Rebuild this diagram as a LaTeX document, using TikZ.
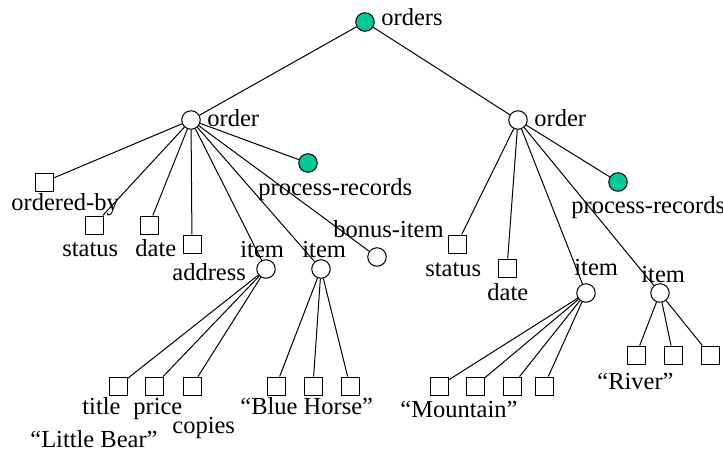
\documentclass[tikz,border=0pt]{standalone}
\usepackage{fontspec}
\setmainfont{Liberation Serif}
\newlength{\du}
\setlength{\du}{0.5pt}
\definecolor{recordgreen}{RGB}{0,200,150}
\tikzset{
  elem/.style={circle,draw=black,fill=white,line width=0.5pt,minimum size=18.5\du,inner sep=0pt},
  recnode/.style={elem,fill=recordgreen},
  leaf/.style={rectangle,draw=black,fill=white,line width=0.5pt,minimum size=18\du,inner sep=0pt},
  lbl/.style={anchor=base west,inner sep=0pt,font=\fontsize{12.25}{14}\selectfont},
  link/.style={draw=black,line width=0.5pt}
}

\begin{document}
\begin{tikzpicture}
\pgftransformxscale{1.000000}
\pgftransformyscale{-1.000000}
\useasboundingbox (0\du,0\du) rectangle (723\du,451\du);
% root and the two orders
\node[recnode] (orders) at (365\du,22\du) {};
\node[elem] (orderA) at (191\du,120\du) {};
\node[elem] (orderB) at (518\du,120\du) {};
% children of the first order
\node[recnode] (recA) at (308\du,163\du) {};
\node[leaf] (orderedby) at (44\du,182\du) {};
\node[leaf] (statusA) at (94\du,225\du) {};
\node[leaf] (dateA) at (149\du,225\du) {};
\node[leaf] (address) at (192\du,244\du) {};
\node[elem] (itemA) at (266\du,269\du) {};
\node[elem] (itemB) at (321\du,269\du) {};
\node[elem] (bonus) at (377\du,257\du) {};
% children of the second order
\node[recnode] (recB) at (618\du,182\du) {};
\node[leaf] (statusB) at (457\du,244\du) {};
\node[leaf] (dateB) at (507\du,268\du) {};
\node[elem] (itemC) at (586\du,293\du) {};
\node[elem] (itemD) at (660\du,293\du) {};
% leaves of the items
\node[leaf] (titleA) at (118\du,386\du) {};
\node[leaf] (priceA) at (154\du,386\du) {};
\node[leaf] (copiesA) at (192\du,386\du) {};
\node[leaf] (titleB) at (276\du,386\du) {};
\node[leaf] (priceB) at (313\du,386\du) {};
\node[leaf] (copiesB) at (350\du,386\du) {};
\node[leaf] (titleC) at (439\du,386\du) {};
\node[leaf] (priceC) at (475\du,386\du) {};
\node[leaf] (copiesC) at (512\du,386\du) {};
\node[leaf] (extraC) at (544\du,386\du) {};
\node[leaf] (titleD) at (636\du,355\du) {};
\node[leaf] (priceD) at (673\du,355\du) {};
\node[leaf] (copiesD) at (710\du,355\du) {};

% edges
\draw[link] (orders) -- (orderA);
\draw[link] (orders) -- (orderB);
\draw[link] (orderA) -- (orderedby);
\draw[link] (orderA) -- (statusA);
\draw[link] (orderA) -- (dateA);
\draw[link] (orderA) -- (address);
\draw[link] (orderA) -- (itemA);
\draw[link] (orderA) -- (itemB);
\draw[link] (orderA) -- (bonus);
\draw[link] (orderA) -- (recA);
\draw[link] (orderB) -- (statusB);
\draw[link] (orderB) -- (dateB);
\draw[link] (orderB) -- (itemC);
\draw[link] (orderB) -- (itemD);
\draw[link] (orderB) -- (recB);
\draw[link] (itemA) -- (titleA);
\draw[link] (itemA) -- (priceA);
\draw[link] (itemA) -- (copiesA);
\draw[link] (itemB) -- (titleB);
\draw[link] (itemB) -- (priceB);
\draw[link] (itemB) -- (copiesB);
\draw[link] (itemC) -- (titleC);
\draw[link] (itemC) -- (priceC);
\draw[link] (itemC) -- (copiesC);
\draw[link] (itemC) -- (extraC);
\draw[link] (itemD) -- (titleD);
\draw[link] (itemD) -- (priceD);
\draw[link] (itemD) -- (copiesD);

% labels
\node[lbl] (lorders) at (381\du,25\du) {orders};
\node[lbl] (lorderA) at (207\du,126\du) {order};
\node[lbl] (lorderB) at (534\du,126\du) {order};
\node[lbl] (lrecA) at (258\du,195\du) {process-records};
\node[lbl] (lrecB) at (571\du,213\du) {process-records};
\node[lbl] (lorderedby) at (11\du,210\du) {ordered-by};
\node[lbl] (lstatusA) at (62\du,256\du) {status};
\node[lbl] (ldateA) at (135\du,256\du) {date};
\node[lbl] (laddress) at (172\du,280\du) {address};
\node[lbl] (litemA) at (240\du,257\du) {item};
\node[lbl] (litemB) at (302\du,257\du) {item};
\node[lbl] (lbonus) at (333\du,237\du) {bonus-item};
\node[lbl] (lstatusB) at (425\du,276\du) {status};
\node[lbl] (ldateB) at (487\du,300\du) {date};
\node[lbl] (litemC) at (574\du,275\du) {item};
\node[lbl] (litemD) at (641\du,282\du) {item};
\node[lbl] (ltitle) at (82\du,414\du) {title};
\node[lbl] (lprice) at (133\du,414\du) {price};
\node[lbl] (lcopies) at (172\du,433\du) {copies};
\node[lbl] (lbear) at (30\du,447\du) {``Little Bear''};
\node[lbl] (lhorse) at (240\du,414\du) {``Blue Horse''};
\node[lbl] (lmountain) at (400\du,417\du) {``Mountain''};
\node[lbl] (lriver) at (597\du,389\du) {``River''};
\end{tikzpicture}
\end{document}
